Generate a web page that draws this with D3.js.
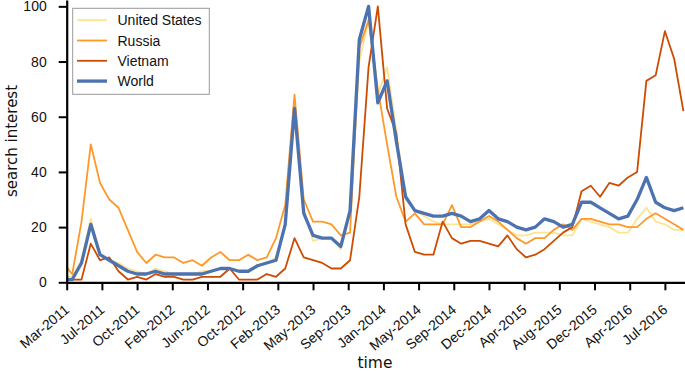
<!DOCTYPE html>
<html><head><meta charset="utf-8">
<script src="https://cdn.jsdelivr.net/npm/d3@7"></script>
<style>body{margin:0;background:#fff}</style>
</head><body><svg id="c" width="685" height="371"></svg>
<script>
// monthly index (-1 is the partially clipped first point)
const monthIndex = d3.range(-1, 67);
const unitedStates = [2,2,8,23,10,8,7,5,4,3,5,4,3,3,3,4,4,5,5,4,4,6,7,9,20,61,27,15,16,16,12,25,80,95,68,78,55,30,26,24,22,21,21,21,21,22,23,21,19,17,17,18,18,18,17,17,23,22,21,20,18,18,23,27,22,21,19,19];
const russia = [7,3,22,50,36,30,27,19,11,7,10,9,9,7,8,6,9,11,8,8,10,8,9,16,28,68,30,22,22,21,17,18,85,95,70,50,31,22,25,21,21,21,28,20,20,22,24,22,19,16,14,16,16,19,21,19,23,23,22,21,21,20,20,23,25,23,21,19];
const vietnam = [1,1,1,14,8,9,4,1,2,1,3,2,2,1,1,2,2,2,5,1,1,1,3,2,5,16,9,8,7,5,5,8,31,78,100,63,54,21,11,10,10,22,16,14,15,15,14,13,17,12,9,10,12,15,18,20,33,35,31,36,35,38,40,73,75,91,81,62];
const world = [1,1,7,21,10,8,6,4,3,3,4,3,3,3,3,3,4,5,5,4,4,6,7,8,21,63,25,17,16,16,13,26,88,100,65,73,51,31,26,25,24,24,25,24,22,23,26,23,22,20,19,20,23,22,20,21,29,29,27,25,23,24,30,38,29,27,26,27];
const tickLabels = ["Mar-2011","Jul-2011","Oct-2011","Feb-2012","Jun-2012","Oct-2012","Feb-2013","May-2013","Sep-2013","Jan-2014","May-2014","Sep-2014","Dec-2014","Apr-2015","Aug-2015","Dec-2015","Apr-2016","Jul-2016"];
const yTicks = [0,20,40,60,80,100];
const seriesNames = ["United States","Russia","Vietnam","World"];
const seriesValues = [unitedStates, russia, vietnam, world];
const colors = ["#fee391","#fe9929","#cc4c02","#4c72b0"];
const widths = [1.8,1.8,1.8,3.3];

const svg = d3.select("#c");
const pL = 66.7, pR = 685, pT = 0, pB = 282.3;
const x = d3.scaleLinear().domain([-0.6, 66.17]).range([pL, pR]);
const y = d3.scaleLinear().domain([0, 102.3]).range([pB, pT]);
const tickVals = tickLabels.map((d, i) => -0.6 + i * 3.8);

svg.append("defs").append("clipPath").attr("id", "clip")
  .append("rect").attr("x", pL).attr("y", 0).attr("width", pR - pL).attr("height", pB + 1);

const lineGen = d3.line().x((d, i) => x(monthIndex[i])).y(d => y(d));
const g = svg.append("g").attr("clip-path", "url(#clip)");
seriesValues.forEach((vals, s) => {
  g.append("path").datum(vals)
    .attr("fill", "none")
    .attr("stroke", colors[s])
    .attr("stroke-width", widths[s])
    .attr("stroke-linejoin", "round")
    .attr("d", lineGen);
});

// axes
const xAxis = svg.append("g").attr("transform", `translate(0,${pB})`)
  .call(d3.axisBottom(x).tickValues(tickVals).tickFormat((d, i) => tickLabels[i]).tickSize(8).tickSizeOuter(0));
xAxis.selectAll("text")
  .attr("x", 0).attr("y", 0).attr("dy", 0)
  .attr("text-anchor", "end")
  .attr("transform", "translate(3,29) rotate(-40)");

const yAxis = svg.append("g").attr("transform", `translate(${pL},0)`)
  .call(d3.axisLeft(y).tickValues(yTicks).tickSize(8).tickPadding(12).tickSizeOuter(0));

[xAxis, yAxis].forEach(a => {
  a.select(".domain").attr("stroke", "#000").attr("stroke-width", 2.2);
  a.selectAll(".tick line").attr("stroke", "#000").attr("stroke-width", 2);
  a.selectAll("text").attr("fill", "#111").style("font-family", "'Liberation Sans', Arial, sans-serif").style("font-size", "14px");
});

// axis titles
svg.append("text").attr("transform", "translate(17,141) rotate(-90)")
  .attr("text-anchor", "middle").attr("fill", "#111")
  .style("font-family", "'DejaVu Sans', sans-serif").style("font-size", "15px")
  .text("search interest");
svg.append("text").attr("x", 375).attr("y", 367.5)
  .attr("text-anchor", "middle").attr("fill", "#111")
  .style("font-family", "'DejaVu Sans', sans-serif").style("font-size", "15.5px")
  .text("time");

// legend
const lg = svg.append("g");
lg.append("rect").attr("x", 72.7).attr("y", 8.3).attr("width", 136.6).attr("height", 86)
  .attr("fill", "#fff").attr("fill-opacity", 0.85).attr("stroke", "#999").attr("stroke-width", 1);
seriesNames.forEach((name, s) => {
  const yy = 20.2 + s * 20.3;
  lg.append("line").attr("x1", 77).attr("x2", 107).attr("y1", yy).attr("y2", yy)
    .attr("stroke", colors[s]).attr("stroke-width", widths[s]);
  lg.append("text").attr("x", 117.5).attr("y", yy).attr("dy", "0.36em")
    .attr("fill", "#111")
    .style("font-family", "'Liberation Sans', Arial, sans-serif").style("font-size", "14px")
    .text(name);
});
</script></body></html>
